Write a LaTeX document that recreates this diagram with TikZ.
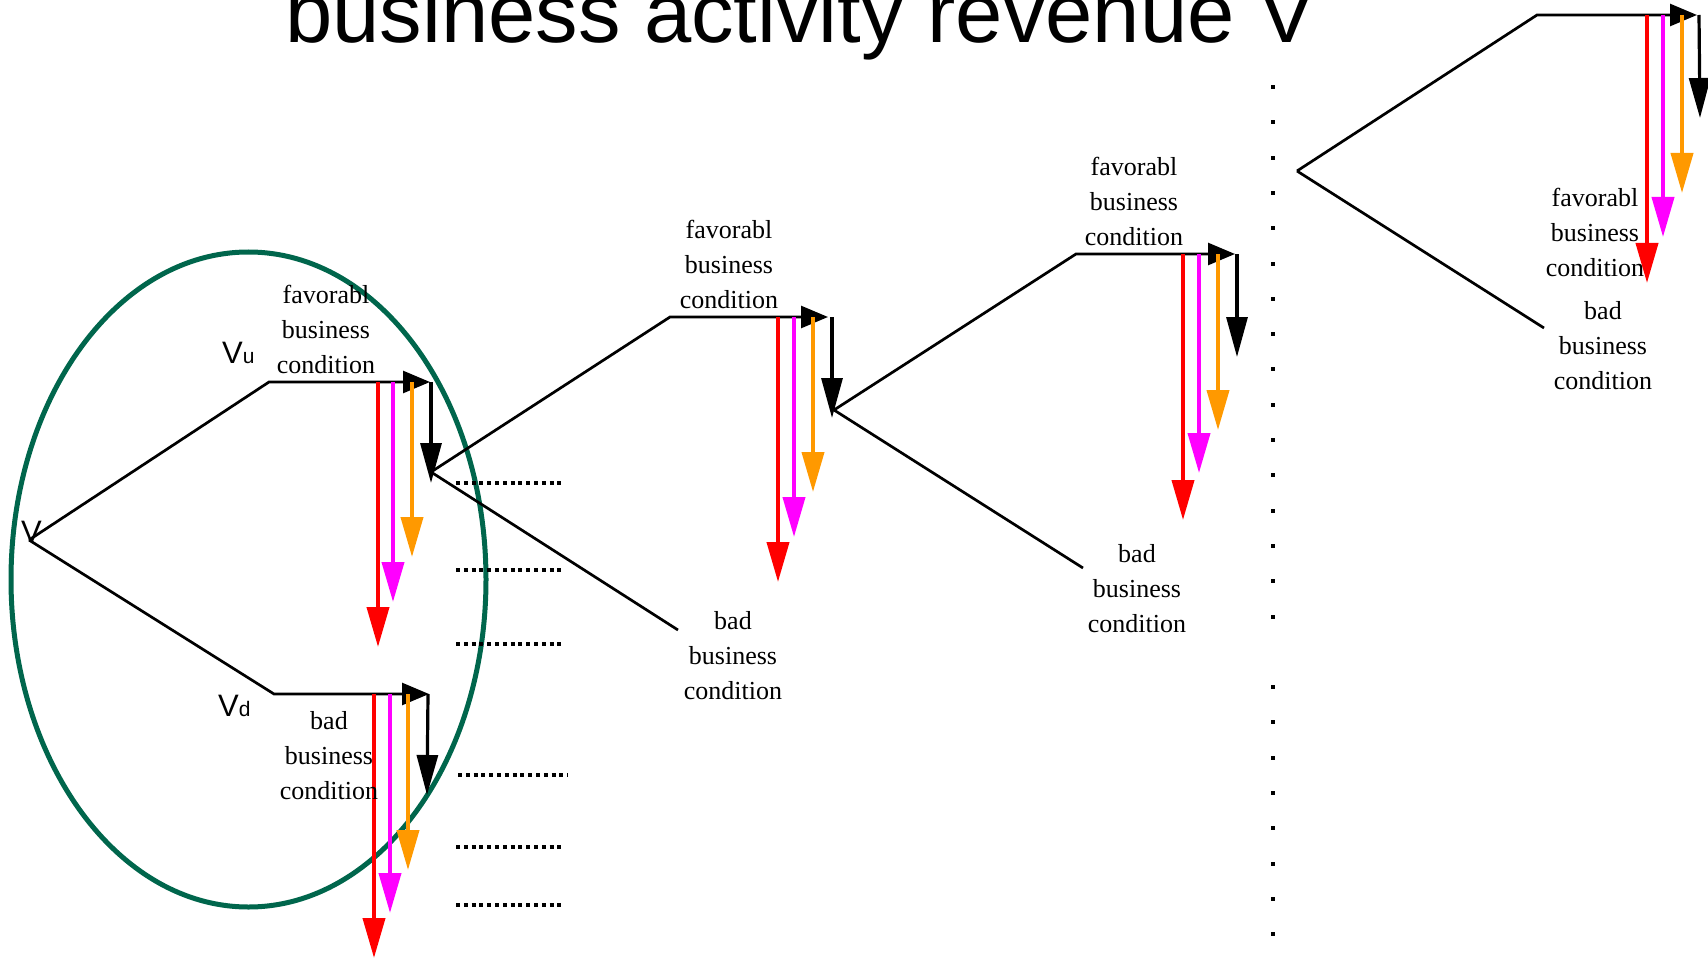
\documentclass[tikz,border=0pt]{standalone}
\usepackage{fontspec}
\setmainfont{Liberation Serif}
\newfontfamily\sansf{Liberation Sans}
\usetikzlibrary{arrows.meta,shapes.geometric}
\definecolor{cred}{RGB}{255,0,0}
\definecolor{cmag}{RGB}{255,0,255}
\definecolor{corange}{RGB}{255,153,0}
\definecolor{cgreen}{RGB}{0,102,76}
\newcommand\tripleArrows[8]{%
  \coordinate (#1r0) at (#3,#2); \coordinate (#1r1) at (#3,#4);
  \coordinate (#1m0) at (#5,#2); \coordinate (#1m1) at (#5,#6);
  \coordinate (#1o0) at (#7,#2); \coordinate (#1o1) at (#7,#8);
  \draw[colarrow,cred] (#1r0) -- (#1r1);
  \draw[colarrow,cmag] (#1m0) -- (#1m1);
  \draw[colarrow,corange] (#1o0) -- (#1o1);
}
\begin{document}
\begin{tikzpicture}[x=1pt,y=-1pt,
  branch/.style={line width=2.7pt,black,line join=miter},
  hzarrow/.style={branch,-{Triangle[length=27pt,width=22pt]}},
  dnarrow/.style={line width=3.2pt,black,-{Triangle[length=40pt,width=21pt]}},
  colarrow/.style={line width=4pt,-{Triangle[length=40pt,width=22pt]}},
  lbl/.style={font=\fontsize{26}{35}\selectfont,align=center,inner sep=0pt},
  vlbl/.style={font=\sansf\fontsize{31}{31}\selectfont,inner sep=0pt,anchor=base west},
  dotrow/.style={line width=3.6pt,dash pattern=on 4pt off 3.8pt},
  ringstyle/.style={line width=5pt,draw=cgreen}
]
\useasboundingbox (0,0) rectangle (1708,960);
\clip (0,0) rectangle (1708,960);

% title
\node[font=\sansf\fontsize{85}{85}\selectfont,inner sep=0pt,anchor=base west] (title) at (285,43) {business activity revenue V};

% green ellipse
\node[ringstyle,ellipse,minimum width=475pt,minimum height=655pt,inner sep=0pt] (ring) at (248.5,579.5) {};

% ---------- stage 1 ----------
\coordinate (v1) at (29,540);
\coordinate (u1) at (269,382);
\coordinate (u1t) at (430,382);
\coordinate (u1s) at (431,382);
\coordinate (u1e) at (431,483);
\coordinate (d1) at (274,694);
\coordinate (d1t) at (429,694);
\coordinate (d1s) at (428,694);
\coordinate (d1e) at (427,795);
\draw[hzarrow] (v1) -- (u1) -- (u1t);
\draw[hzarrow] (v1) -- (d1) -- (d1t);
\draw[dnarrow] (u1s) -- (u1e);
\draw[dnarrow] (d1s) -- (d1e);
\tripleArrows{aU}{382}{378}{647}{393}{602}{412}{557}
\tripleArrows{aD}{694}{374}{958}{390}{913}{408}{870}
\node[vlbl] (lV) at (21,542) {V};
\node[vlbl] (lVu) at (222,363) {V{\fontsize{21}{21}\selectfont u}};
\node[vlbl] (lVd) at (218,716) {V{\fontsize{21}{21}\selectfont d}};
\node[lbl] (f1) at (326,329) {favorabl\\business\\condition};
\node[lbl] (b1) at (329,756) {bad\\business\\condition};

% dotted rows
\coordinate (r1a) at (456,483); \coordinate (r1b) at (565,483);
\coordinate (r2a) at (456,570); \coordinate (r2b) at (565,570);
\coordinate (r3a) at (456,644); \coordinate (r3b) at (565,644);
\coordinate (r4a) at (458,775); \coordinate (r4b) at (568,775);
\coordinate (r5a) at (456,847); \coordinate (r5b) at (565,847);
\coordinate (r6a) at (456,905); \coordinate (r6b) at (565,905);
\foreach \i in {1,...,6}{\draw[dotrow] (r\i a) -- (r\i b);}

% ---------- stage 2 ----------
\coordinate (v2) at (431,472);
\coordinate (u2) at (670,317);
\coordinate (u2t) at (828,317);
\coordinate (u2s) at (832,317);
\coordinate (u2e) at (832,418);
\coordinate (e2) at (678,630);
\draw[hzarrow] (v2) -- (u2) -- (u2t);
\draw[branch] (v2) -- (e2);
\draw[dnarrow] (u2s) -- (u2e);
\tripleArrows{bU}{317}{778}{582}{794}{537}{813}{492}
\node[lbl] (f2) at (729,264) {favorabl\\business\\condition};
\node[lbl] (b2) at (733,656) {bad\\business\\condition};

% ---------- stage 3 ----------
\coordinate (v3) at (834,410);
\coordinate (u3) at (1076,254);
\coordinate (u3t) at (1235,254);
\coordinate (u3s) at (1237,254);
\coordinate (u3e) at (1237,357);
\coordinate (e3) at (1083,568);
\draw[hzarrow] (v3) -- (u3) -- (u3t);
\draw[branch] (v3) -- (e3);
\draw[dnarrow] (u3s) -- (u3e);
\tripleArrows{cU}{254}{1183}{520}{1199}{473}{1218}{430}
\node[lbl] (f3) at (1134,201) {favorabl\\business\\condition};
\node[lbl] (b3) at (1137,589) {bad\\business\\condition};

% vertical dots
\foreach \k in {0,...,15,17,18,...,24}{
  \fill (1271,{87+35.3*\k-2}) rectangle (1275,{87+35.3*\k+2});
}

% ---------- stage 4 ----------
\coordinate (v4) at (1297,171);
\coordinate (u4) at (1537,15);
\coordinate (u4t) at (1697,15);
\coordinate (u4s) at (1699,15);
\coordinate (u4e) at (1700,118);
\coordinate (e4) at (1544,328);
\draw[hzarrow] (v4) -- (u4) -- (u4t);
\draw[branch] (v4) -- (e4);
\draw[dnarrow] (u4s) -- (u4e);
\tripleArrows{dU}{15}{1647}{283}{1663}{237}{1682}{193}
\node[lbl] (f4) at (1595,232) {favorabl\\business\\condition};
\node[lbl] (b4) at (1603,346) {bad\\business\\condition};
\end{tikzpicture}
\end{document}
